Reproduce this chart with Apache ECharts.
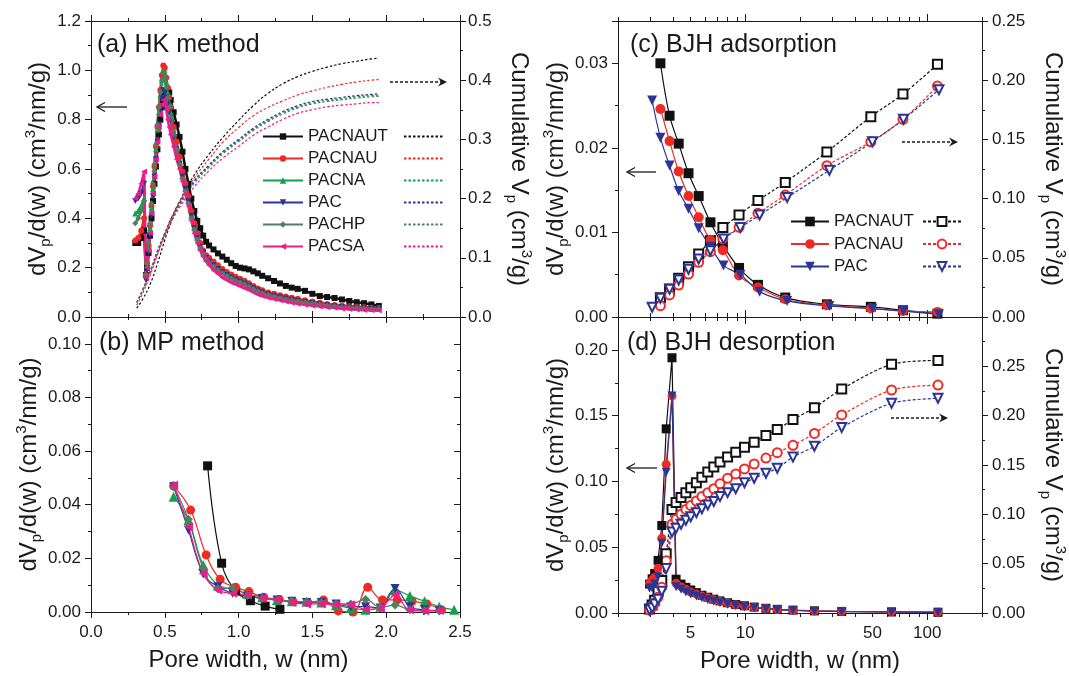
<!DOCTYPE html>
<html><head><meta charset="utf-8">
<script src="https://cdn.jsdelivr.net/npm/echarts@6/dist/echarts.min.js"></script>
<style>html,body{margin:0;padding:0;background:#fff}#c{width:1069px;height:676px}</style>
</head><body><div id="c"></div>
<script>
// ---------------- DATA ----------------
const names6 = ['PACNAUT', 'PACNAU', 'PACNA', 'PAC', 'PACHP', 'PACSA'];
const colors6 = ['#111111', '#ee2a24', '#12a14b', '#2b3594', '#4f7f60', '#ec1c8c'];
const symbols6 = ['rect', 'circle', 'triangle', 'triangle', 'diamond', 'triangle'];
const rotates6 = [0, 0, 0, 180, 0, 90];

// (a) HK method, dV/dw
const hkX = [0.30, 0.32, 0.34, 0.36, 0.372, 0.38, 0.39, 0.40, 0.41, 0.42, 0.43, 0.44, 0.45, 0.46, 0.47, 0.48, 0.49, 0.50, 0.51, 0.52, 0.53, 0.54,
  0.56, 0.58, 0.60, 0.62, 0.64, 0.66, 0.68, 0.70, 0.72, 0.74, 0.76, 0.78, 0.80,
  0.83, 0.86, 0.89, 0.92, 0.95, 0.98, 1.01, 1.04, 1.07, 1.10, 1.13, 1.16,
  1.20, 1.24, 1.28, 1.32, 1.36, 1.40,
  1.45, 1.50, 1.55, 1.60, 1.65, 1.70, 1.75, 1.80, 1.85, 1.90, 1.95];
const hkPACNAUT = [0.30, 0.30, 0.32, 0.35, 0.17, 0.20, 0.26, 0.33, 0.40, 0.47, 0.54, 0.61, 0.68, 0.74, 0.80, 0.85, 0.88, 0.90, 0.915, 0.92, 0.91, 0.88,
  0.83, 0.78, 0.73, 0.67, 0.60, 0.54, 0.48, 0.43, 0.39, 0.36, 0.33, 0.305, 0.29,
  0.274, 0.258, 0.245, 0.232, 0.218, 0.207, 0.200, 0.197, 0.193, 0.185, 0.177, 0.167,
  0.157, 0.146, 0.136, 0.126, 0.119, 0.114,
  0.106, 0.094, 0.085, 0.081, 0.077, 0.071, 0.065, 0.060, 0.056, 0.051, 0.045];
const hkPACNAU = [0.31, 0.32, 0.35, 0.40, 0.17, 0.22, 0.29, 0.37, 0.45, 0.53, 0.61, 0.69, 0.77, 0.85, 0.92, 0.98, 1.02, 1.01, 0.97, 0.93, 0.89, 0.85,
  0.77, 0.71, 0.65, 0.59, 0.54, 0.49, 0.43, 0.38, 0.34, 0.30, 0.27, 0.25, 0.24,
  0.225, 0.21, 0.195, 0.182, 0.172, 0.163, 0.155, 0.147, 0.137, 0.126, 0.116, 0.108,
  0.099, 0.094, 0.088, 0.083, 0.078, 0.074,
  0.068, 0.063, 0.058, 0.053, 0.049, 0.046, 0.044, 0.042, 0.040, 0.038, 0.036];
const hkPACNA = [0.42, 0.43, 0.45, 0.48, 0.17, 0.21, 0.28, 0.36, 0.44, 0.52, 0.60, 0.68, 0.76, 0.83, 0.90, 0.96, 1.00, 0.99, 0.95, 0.91, 0.87, 0.83,
  0.75, 0.69, 0.63, 0.57, 0.52, 0.47, 0.41, 0.36, 0.32, 0.285, 0.26, 0.24, 0.225,
  0.21, 0.196, 0.183, 0.172, 0.162, 0.153, 0.146, 0.138, 0.129, 0.119, 0.110, 0.102,
  0.094, 0.088, 0.082, 0.077, 0.072, 0.068,
  0.063, 0.058, 0.053, 0.049, 0.045, 0.042, 0.040, 0.038, 0.036, 0.034, 0.033];
const hkPAC = [0.47, 0.48, 0.50, 0.54, 0.15, 0.19, 0.26, 0.33, 0.41, 0.49, 0.57, 0.64, 0.71, 0.78, 0.84, 0.89, 0.92, 0.91, 0.89, 0.86, 0.83, 0.80,
  0.73, 0.68, 0.62, 0.57, 0.52, 0.47, 0.41, 0.36, 0.32, 0.285, 0.26, 0.24, 0.225,
  0.21, 0.195, 0.182, 0.170, 0.160, 0.151, 0.144, 0.136, 0.127, 0.117, 0.108, 0.100,
  0.092, 0.086, 0.080, 0.075, 0.070, 0.066,
  0.061, 0.056, 0.052, 0.048, 0.044, 0.041, 0.039, 0.037, 0.035, 0.033, 0.032];
const hkPACHP = [0.38, 0.40, 0.43, 0.47, 0.17, 0.22, 0.30, 0.38, 0.46, 0.54, 0.62, 0.70, 0.78, 0.85, 0.91, 0.96, 0.99, 0.97, 0.93, 0.89, 0.85, 0.81,
  0.74, 0.68, 0.62, 0.56, 0.51, 0.46, 0.40, 0.355, 0.315, 0.28, 0.255, 0.235, 0.22,
  0.205, 0.19, 0.178, 0.167, 0.157, 0.148, 0.141, 0.133, 0.124, 0.114, 0.105, 0.097,
  0.089, 0.083, 0.077, 0.072, 0.068, 0.064,
  0.059, 0.055, 0.051, 0.047, 0.043, 0.040, 0.038, 0.036, 0.034, 0.032, 0.031];
const hkPACSA = [0.48, 0.50, 0.54, 0.59, 0.16, 0.20, 0.27, 0.34, 0.42, 0.50, 0.57, 0.64, 0.71, 0.77, 0.82, 0.86, 0.88, 0.87, 0.84, 0.80, 0.77, 0.74,
  0.69, 0.64, 0.60, 0.55, 0.50, 0.45, 0.39, 0.34, 0.30, 0.27, 0.245, 0.225, 0.21,
  0.19, 0.175, 0.16, 0.15, 0.14, 0.133, 0.125, 0.117, 0.11, 0.10, 0.091, 0.085,
  0.078, 0.073, 0.068, 0.063, 0.058, 0.054,
  0.050, 0.046, 0.043, 0.040, 0.037, 0.034, 0.032, 0.030, 0.028, 0.027, 0.026];

// (a) HK cumulative volume
const hkCumX = [0.31, 0.35, 0.40, 0.45, 0.50, 0.55, 0.60, 0.70, 0.80, 0.90, 1.00, 1.10, 1.20, 1.30, 1.40, 1.50, 1.60, 1.70, 1.80, 1.90, 1.95];
const hkCumPACNAUT = [0.015, 0.03, 0.055, 0.09, 0.13, 0.165, 0.195, 0.24, 0.275, 0.305, 0.332, 0.357, 0.378, 0.394, 0.406, 0.415, 0.422, 0.428, 0.432, 0.436, 0.437];
const hkCumPACNAU = [0.02, 0.04, 0.07, 0.105, 0.14, 0.17, 0.195, 0.235, 0.267, 0.297, 0.32, 0.34, 0.354, 0.365, 0.375, 0.382, 0.388, 0.393, 0.397, 0.40, 0.401];
const hkCumPACNA = [0.025, 0.045, 0.075, 0.11, 0.14, 0.168, 0.19, 0.228, 0.255, 0.279, 0.298, 0.317, 0.332, 0.345, 0.355, 0.362, 0.366, 0.369, 0.372, 0.374, 0.375];
const hkCumPAC = [0.025, 0.046, 0.077, 0.112, 0.142, 0.17, 0.192, 0.23, 0.257, 0.281, 0.30, 0.319, 0.334, 0.347, 0.357, 0.364, 0.368, 0.371, 0.374, 0.376, 0.377];
const hkCumPACHP = [0.024, 0.044, 0.074, 0.108, 0.138, 0.166, 0.188, 0.226, 0.253, 0.277, 0.296, 0.315, 0.33, 0.343, 0.353, 0.36, 0.364, 0.367, 0.37, 0.372, 0.373];
const hkCumPACSA = [0.025, 0.045, 0.075, 0.108, 0.137, 0.163, 0.185, 0.22, 0.247, 0.27, 0.288, 0.307, 0.321, 0.334, 0.344, 0.35, 0.355, 0.358, 0.36, 0.362, 0.362];

// (b) MP method
const mpX_PACNAUT = [0.79, 0.885, 0.98, 1.08, 1.18, 1.28];
const mpPACNAUT = [0.0545, 0.0182, 0.0078, 0.0042, 0.0022, 0.001];
const mpX_PACNAU = [0.56, 0.675, 0.78, 0.875, 0.98, 1.07, 1.17, 1.275, 1.37, 1.47, 1.575, 1.675, 1.775, 1.875, 1.975, 2.075, 2.175, 2.275, 2.375];
const mpPACNAU = [0.047, 0.038, 0.0213, 0.0122, 0.0092, 0.0076, 0.0055, 0.0047, 0.0038, 0.0035, 0.0045, 0.0004, 0.0, 0.0092, 0.0045, 0.0045, 0.004, 0.003, 0.0008];
const mpX = [0.56, 0.66, 0.76, 0.86, 0.96, 1.06, 1.16, 1.26, 1.36, 1.46, 1.56, 1.66, 1.76, 1.86, 1.96, 2.06, 2.16, 2.26, 2.36, 2.46];
const mpPACNA = [0.043, 0.0343, 0.0175, 0.010, 0.0085, 0.0068, 0.0055, 0.0045, 0.0040, 0.0038, 0.0035, 0.0025, 0.0015, 0.0008, 0.002, 0.0082, 0.006, 0.004, 0.002, 0.0008];
const mpPAC = [0.0467, 0.0306, 0.0142, 0.0094, 0.007, 0.006, 0.005, 0.0045, 0.004, 0.0035, 0.0035, 0.003, 0.002, 0.002, 0.0015, 0.0088, 0.002, 0.0008, 0.0005];
const mpPACHP = [0.047, 0.0346, 0.0163, 0.0087, 0.009, 0.0062, 0.005, 0.0045, 0.004, 0.0038, 0.0035, 0.003, 0.003, 0.0047, 0.0018, 0.0026, 0.0008, 0.0005, 0.0004];
const mpPACSA = [0.0473, 0.0318, 0.0144, 0.0082, 0.007, 0.0063, 0.0051, 0.0047, 0.0035, 0.003, 0.003, 0.0027, 0.0027, 0.001, 0.0015, 0.0063, 0.0007, 0.0005, 0.0006];

// (c) BJH adsorption
const adsX_T = [3.42, 3.84, 4.31, 4.88, 5.55, 6.44, 7.54, 9.25, 11.75, 16.6, 28.1, 49, 73.6, 113.8];
const adsX_P = [3.08, 3.42, 3.84, 4.31, 4.88, 5.55, 6.44, 7.6, 9.4, 12.0, 17.0, 29.0, 50.0, 74.0, 116.0];
const adsPACNAUT = [0.0300, 0.0238, 0.0205, 0.0170, 0.0143, 0.0112, 0.0085, 0.0058, 0.0038, 0.0023, 0.0015, 0.0012, 0.0008, 0.0004];
const adsPACNAU = [0.0246, 0.0208, 0.0172, 0.0143, 0.0118, 0.0091, 0.0079, 0.0049, 0.0035, 0.0021, 0.0014, 0.0010, 0.0007, 0.0006];
const adsPAC = [0.0256, 0.0212, 0.0179, 0.0149, 0.0128, 0.0105, 0.0083, 0.0061, 0.0050, 0.0030, 0.0019, 0.0013, 0.0010, 0.0007, 0.0003];
const adsCumPACNAUT = [0.0163, 0.0236, 0.0327, 0.0425, 0.0532, 0.0645, 0.0755, 0.0861, 0.0983, 0.1137, 0.1394, 0.1692, 0.1883, 0.2134];
const adsCumPACNAU = [0.0096, 0.0186, 0.027, 0.0363, 0.0462, 0.0552, 0.0659, 0.0757, 0.0876, 0.103, 0.1278, 0.148, 0.167, 0.195];
const adsCumPAC = [0.0082, 0.0158, 0.0234, 0.0313, 0.0403, 0.049, 0.056, 0.0659, 0.0755, 0.0861, 0.101, 0.124, 0.148, 0.167, 0.192];

// (d) BJH desorption
const desX = [2.98, 3.08, 3.18, 3.32, 3.48, 3.68, 3.96, 4.17, 4.44, 4.72, 5.02, 5.39, 5.78, 6.23, 6.72, 7.27, 8.0, 8.87, 9.91, 11.2, 13.0, 15.0, 18.3, 24.0, 33.9, 63.7, 114.6];
const desPACNAUT = [0.022, 0.026, 0.030, 0.040, 0.0665, 0.140, 0.194, 0.0257, 0.022, 0.0195, 0.0175, 0.0155, 0.0135, 0.012, 0.0105, 0.0092, 0.0078, 0.0065, 0.0055, 0.0045, 0.0036, 0.0028, 0.0022, 0.0016, 0.0012, 0.0008, 0.0005];
const desPACNAU = [0.0226, 0.025, 0.027, 0.034, 0.0568, 0.113, 0.165, 0.0226, 0.020, 0.018, 0.016, 0.0145, 0.013, 0.0115, 0.010, 0.0088, 0.0075, 0.0063, 0.0052, 0.0043, 0.0035, 0.0027, 0.0021, 0.0016, 0.0012, 0.0009, 0.0006];
const desPAC = [0.0188, 0.019, 0.022, 0.0276, 0.053, 0.107, 0.165, 0.020, 0.018, 0.016, 0.0145, 0.013, 0.0115, 0.010, 0.009, 0.0078, 0.0066, 0.0055, 0.0046, 0.0038, 0.0031, 0.0024, 0.0019, 0.0014, 0.0011, 0.0008, 0.0005];
const desCumPACNAUT = [0.004, 0.008, 0.013, 0.022, 0.033, 0.060, 0.105, 0.112, 0.117, 0.122, 0.127, 0.132, 0.1375, 0.143, 0.148, 0.153, 0.158, 0.163, 0.168, 0.173, 0.180, 0.186, 0.196, 0.208, 0.227, 0.252, 0.256];
const desCumPACNAU = [0.003, 0.006, 0.010, 0.016, 0.026, 0.053, 0.090, 0.095, 0.100, 0.105, 0.109, 0.1135, 0.118, 0.122, 0.126, 0.131, 0.1365, 0.141, 0.146, 0.151, 0.157, 0.1625, 0.170, 0.182, 0.2007, 0.226, 0.231];
const desCumPAC = [0.003, 0.005, 0.009, 0.014, 0.022, 0.045, 0.082, 0.0858, 0.090, 0.094, 0.0976, 0.1017, 0.1057, 0.1095, 0.113, 0.118, 0.122, 0.126, 0.132, 0.1365, 0.1416, 0.1467, 0.158, 0.169, 0.188, 0.2125, 0.2176];

// axis ticks / labels
const logMajorTicks = [10, 100];
const logMinorTicks = [2, 3, 4, 5, 6, 7, 8, 9, 20, 30, 40, 50, 60, 70, 80, 90, 200];
const logTickLabels = [5, 10, 50, 100];

// ---------------- CHART ----------------
const FONT = '"Liberation Sans", Arial, Helvetica, sans-serif';
const AX = '#1a1a1a';
const zip = (xs, ys) => xs.map((x, i) => [x, ys[i]]);

const grids = [
  {left: 91, top: 21, width: 369, height: 296},
  {left: 91, top: 317, width: 369, height: 295},
  {left: 618, top: 21, width: 370, height: 296},
  {left: 618, top: 317, width: 370, height: 296}
];

const rich = {
  n: {fontSize: 24, fontFamily: FONT, color: AX, lineHeight: 30},
  s: {fontSize: 15, fontFamily: FONT, color: AX, lineHeight: 15, verticalAlign: 'bottom'},
  u: {fontSize: 15, fontFamily: FONT, color: AX, lineHeight: 15, verticalAlign: 'top'}
};
const yNameL = '{n|dV}{s|p}{n|/d(w) (cm}{u|3}{n|/nm/g)}';
const yNameR = '{n|Cumulative V}{s|p}{n| (cm}{u|3}{n|/g)}';

function linX(gi, pos, showLabel, name) {
  const ax = {
    type: 'value', gridIndex: gi, position: pos, min: 0, max: 2.5, interval: 0.5,
    axisLine: {show: true, onZero: false, lineStyle: {color: AX, width: 1}},
    axisTick: {show: true, inside: false, length: 6, lineStyle: {color: AX}},
    minorTick: {show: true, splitNumber: 2, length: 3, lineStyle: {color: AX}},
    axisLabel: {show: showLabel, margin: 12, fontSize: 17, color: AX, fontFamily: FONT, formatter: v => v.toFixed(1)},
    splitLine: {show: false}, minorSplitLine: {show: false}
  };
  if (name) {
    ax.name = name; ax.nameLocation = 'middle'; ax.nameGap = 36;
    ax.nameTextStyle = {fontSize: 24, fontFamily: FONT, color: AX, padding: [0, 54, 0, 0]};
  }
  return ax;
}
function logX(gi, pos, ticks, len, showLine, labels, name) {
  const ax = {
    type: 'log', logBase: 10, gridIndex: gi, position: pos, min: 2, max: 200,
    axisLine: {show: showLine, onZero: false, lineStyle: {color: AX, width: 1}},
    axisTick: {show: true, inside: false, length: len, customValues: ticks, lineStyle: {color: AX}},
    axisLabel: labels ? {show: true, customValues: labels, margin: 12, fontSize: 17, color: AX, fontFamily: FONT} : {show: false},
    splitLine: {show: false}, minorTick: {show: false}
  };
  if (name) {
    ax.name = name; ax.nameLocation = 'middle'; ax.nameGap = 36;
    ax.nameTextStyle = {fontSize: 24, fontFamily: FONT, color: AX};
  }
  return ax;
}
function valY(gi, pos, max, interval, dec, opts) {
  opts = opts || {};
  const ax = {
    type: 'value', gridIndex: gi, position: pos, min: 0, max: max, interval: interval,
    axisLine: {show: true, onZero: false, lineStyle: {color: AX, width: 1}},
    axisTick: {show: true, inside: !!opts.inside, length: 6, lineStyle: {color: AX}},
    minorTick: {show: true, splitNumber: 2, length: 3, lineStyle: {color: AX}},
    axisLabel: {show: opts.label !== false, margin: opts.margin || 10, fontSize: 17, color: AX, fontFamily: FONT,
      showMaxLabel: !!opts.showMax, formatter: v => v.toFixed(dec)},
    splitLine: {show: false}, minorSplitLine: {show: false}
  };
  if (opts.name) {
    ax.name = opts.name; ax.nameLocation = 'middle'; ax.nameGap = opts.gap;
    ax.nameRotate = opts.rot;
    ax.nameTextStyle = {rich: rich, fontSize: 24, fontFamily: FONT, color: AX};
  }
  return ax;
}

const xAxis = [
  linX(0, 'bottom', false), linX(0, 'top', false),
  linX(1, 'bottom', true, 'Pore width, w (nm)'), linX(1, 'top', false),
  logX(2, 'bottom', logMajorTicks, 7, true, null), logX(2, 'bottom', logMinorTicks, 4, false, null),
  logX(2, 'top', logMajorTicks, 7, true, null), logX(2, 'top', logMinorTicks, 4, false, null),
  logX(3, 'bottom', logMajorTicks, 7, true, logTickLabels, 'Pore width, w (nm)'), logX(3, 'bottom', logMinorTicks, 4, false, null),
  logX(3, 'top', logMajorTicks, 7, true, null), logX(3, 'top', logMinorTicks, 4, false, null)
];
const yAxis = [
  valY(0, 'left', 1.2, 0.2, 1, {showMax: true, name: yNameL, gap: 36, rot: 90}),
  valY(0, 'right', 0.5, 0.1, 1, {showMax: true, margin: 8, name: yNameR, gap: 44, rot: -90}),
  valY(1, 'left', 0.11, 0.02, 2, {name: yNameL, gap: 46, rot: 90}),
  valY(1, 'right', 0.11, 0.02, 2, {label: false, inside: true}),
  valY(2, 'left', 0.035, 0.01, 2, {name: yNameL, gap: 44, rot: 90}),
  valY(2, 'right', 0.25, 0.05, 2, {showMax: true, name: yNameR, gap: 56, rot: -90}),
  valY(3, 'left', 0.225, 0.05, 2, {name: yNameL, gap: 44, rot: 90}),
  valY(3, 'right', 0.30, 0.05, 2, {name: yNameR, gap: 56, rot: -90})
];

const series = [];
const hkVals = [hkPACNAUT, hkPACNAU, hkPACNA, hkPAC, hkPACHP, hkPACSA];
const hkCum = [hkCumPACNAUT, hkCumPACNAU, hkCumPACNA, hkCumPAC, hkCumPACHP, hkCumPACSA];
hkCum.forEach((v, i) => series.push({
  name: 'HK cumulative ' + names6[i], type: 'line', xAxisIndex: 0, yAxisIndex: 1, data: zip(hkCumX, v),
  smooth: true, symbol: 'none', showSymbol: false,
  lineStyle: {color: colors6[i], width: 1.2, type: [2.5, 2]}, itemStyle: {color: colors6[i]}, z: 2
}));
hkVals.forEach((v, i) => series.push({
  name: names6[i], type: 'line', xAxisIndex: 0, yAxisIndex: 0, data: zip(hkX, v),
  symbol: symbols6[i], symbolRotate: rotates6[i], symbolSize: 6, showAllSymbol: true,
  lineStyle: {color: colors6[i], width: 2.6}, itemStyle: {color: colors6[i]}, z: 3
}));
const mpXs = [mpX_PACNAUT, mpX_PACNAU, mpX, mpX, mpX, mpX];
const mpVals = [mpPACNAUT, mpPACNAU, mpPACNA, mpPAC, mpPACHP, mpPACSA];
mpVals.forEach((v, i) => series.push({
  name: names6[i], type: 'line', xAxisIndex: 2, yAxisIndex: 2, data: zip(mpXs[i], v),
  smooth: 0.4, symbol: symbols6[i], symbolRotate: rotates6[i], symbolSize: i === 2 ? 10 : 9, showAllSymbol: true,
  lineStyle: {color: colors6[i], width: 1.2}, itemStyle: {color: colors6[i]}
}));
const bjhNames = ['PACNAUT', 'PACNAU', 'PAC'];
const bjhColors = ['#111111', '#ee2a24', '#2b3594'];
const bjhSym = ['rect', 'circle', 'triangle'];
const bjhEmpty = ['emptyRect', 'emptyCircle', 'emptyTriangle'];
const bjhRot = [0, 0, 180];
const adsXs = [adsX_T, adsX_T, adsX_P];
const adsVals = [adsPACNAUT, adsPACNAU, adsPAC];
const adsCum = [adsCumPACNAUT, adsCumPACNAU, adsCumPAC];
const desVals = [desPACNAUT, desPACNAU, desPAC];
const desCum = [desCumPACNAUT, desCumPACNAU, desCumPAC];
for (let i = 0; i < 3; i++) {
  series.push({
    name: bjhNames[i], type: 'line', xAxisIndex: 4, yAxisIndex: 4, data: zip(adsXs[i], adsVals[i]),
    smooth: 0.35, symbol: bjhSym[i], symbolRotate: bjhRot[i], symbolSize: 10, showAllSymbol: true,
    lineStyle: {color: bjhColors[i], width: 1.2}, itemStyle: {color: bjhColors[i]}
  });
  series.push({
    name: 'BJH cumulative ' + bjhNames[i], type: 'line', xAxisIndex: 4, yAxisIndex: 5, data: zip(adsXs[i], adsCum[i]),
    smooth: 0.35, symbol: bjhEmpty[i], symbolRotate: bjhRot[i], symbolSize: 9, showAllSymbol: true,
    lineStyle: {color: bjhColors[i], width: 1.2, type: [3, 2]}, itemStyle: {color: bjhColors[i], borderWidth: 1.2}
  });
}
for (let i = 0; i < 3; i++) {
  series.push({
    name: 'BJH cumulative ' + bjhNames[i], type: 'line', xAxisIndex: 8, yAxisIndex: 7, data: zip(desX, desCum[i]),
    smooth: 0.3, symbol: bjhEmpty[i], symbolRotate: bjhRot[i], symbolSize: 9, showAllSymbol: true,
    lineStyle: {color: bjhColors[i], width: 1.2, type: [3, 2]}, itemStyle: {color: bjhColors[i], borderWidth: 1.2}
  });
}
for (let i = 0; i < 3; i++) {
  series.push({
    name: bjhNames[i], type: 'line', xAxisIndex: 8, yAxisIndex: 6, data: zip(desX, desVals[i]),
    symbol: bjhSym[i], symbolRotate: bjhRot[i], symbolSize: 9, showAllSymbol: true,
    lineStyle: {color: bjhColors[i], width: 1.2}, itemStyle: {color: bjhColors[i]}
  });
}

const legTxt = {fontSize: 17, fontFamily: FONT, color: AX};
const legend = [
  {orient: 'vertical', left: 262, top: 128, itemWidth: 40, itemHeight: 8, itemGap: 5, padding: 0,
   data: names6, textStyle: legTxt, selectedMode: false},
  {orient: 'vertical', left: 403, top: 128, itemWidth: 39, itemHeight: 8, itemGap: 5, padding: 0,
   data: names6.map(n => 'HK cumulative ' + n), formatter: () => ' ', textStyle: legTxt, selectedMode: false,
   itemStyle: {opacity: 0}},
  {orient: 'vertical', left: 790, top: 213, itemWidth: 38, itemHeight: 12, itemGap: 5.5, padding: 0,
   data: bjhNames, textStyle: legTxt, selectedMode: false},
  {orient: 'vertical', left: 922, top: 213, itemWidth: 38, itemHeight: 11, itemGap: 5.5, padding: 0,
   data: bjhNames.map(n => 'BJH cumulative ' + n), formatter: () => ' ', textStyle: legTxt, selectedMode: false}
];

const titleStyle = {fontSize: 25, fontWeight: 'normal', fontFamily: FONT, color: AX};
const title = [
  {text: '(a) HK method', left: 97, top: 33, padding: 0, textStyle: titleStyle},
  {text: '(b) MP method', left: 99, top: 331, padding: 0, textStyle: titleStyle},
  {text: '(c) BJH adsorption', left: 630, top: 33, padding: 0, textStyle: titleStyle},
  {text: '(d) BJH desorption', left: 627, top: 331, padding: 0, textStyle: titleStyle}
];

function arrow(x1, x2, y, dotted) {
  const dir = x2 > x1 ? 1 : -1;
  const els = [{type: 'line', shape: {x1: x1, y1: y, x2: x2 - dir * (dotted ? 6 : 1), y2: y},
    style: {stroke: AX, lineWidth: 1.3, lineDash: dotted ? [3, 2] : null}}];
  if (dotted) {
    els.push({type: 'polygon', shape: {points: [[x2, y], [x2 - dir * 9, y - 4.5], [x2 - dir * 6, y], [x2 - dir * 9, y + 4.5]]},
      style: {fill: AX}});
  } else {
    els.push({type: 'polyline', shape: {points: [[x2 - dir * 8, y - 4.5], [x2, y], [x2 - dir * 8, y + 4.5]]},
      style: {stroke: AX, lineWidth: 1.3, fill: null}});
  }
  return {type: 'group', children: els};
}
const graphic = [
  arrow(127, 97, 107, false), arrow(390, 447, 82, true),
  arrow(656, 627, 172, false), arrow(902, 958, 142, true),
  arrow(657, 627, 468, false), arrow(891, 948, 418, true)
];

const chart = echarts.init(document.getElementById('c'), null, {renderer: 'canvas'});
chart.setOption({
  animation: false, backgroundColor: '#fff',
  grid: grids, xAxis: xAxis, yAxis: yAxis, series: series,
  legend: legend, title: title, graphic: graphic, tooltip: {show: false}
});
</script></body></html>
